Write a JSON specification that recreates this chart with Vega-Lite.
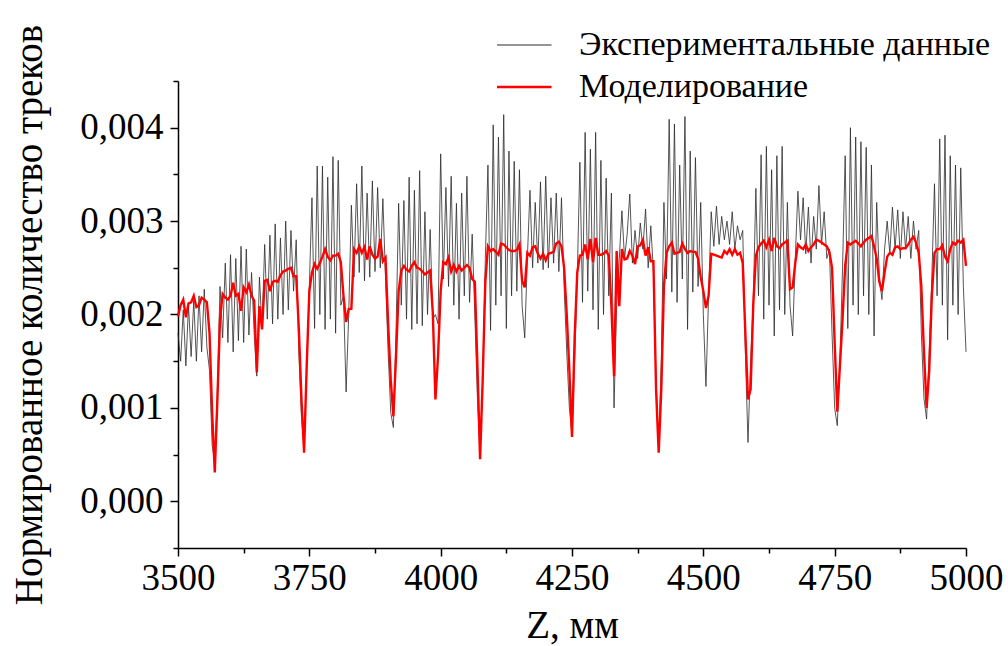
{
"$schema": "https://vega.github.io/schema/vega-lite/v6.json",
"width": 788, "height": 467,
"autosize": {"type": "none"},
"padding": {"left": 178, "top": 81, "right": 42, "bottom": 98},
"background": "white",
"config": {
  "locale": {"number": {"decimal": ",", "thousands": "", "grouping": [3], "currency": ["", ""]}},
  "view": {"stroke": null},
  "font": "'Liberation Serif', 'Times New Roman', 'DejaVu Serif', serif",
  "axis": {"domainColor": "black", "domainWidth": 1.5, "tickColor": "black", "tickWidth": 1.5, "labelColor": "black", "titleColor": "black", "labelFont": "'Liberation Serif', 'Times New Roman', 'DejaVu Serif', serif", "titleFont": "'Liberation Serif', 'Times New Roman', 'DejaVu Serif', serif", "labelFontSize": 37, "titleFontSize": 39, "titleFontWeight": "normal", "grid": false, "labelOverlap": false}
},
"datasets": {
"exp": [
{"z":3500,"v":0.00180},{"z":3505,"v":0.00150},{"z":3510,"v":0.00205},{"z":3515,"v":0.00145},{"z":3520,"v":0.00210},{"z":3525,"v":0.00155},{"z":3530,"v":0.00215},{"z":3535,"v":0.00150},{"z":3540,"v":0.00220},{"z":3545,"v":0.00160},
{"z":3550,"v":0.00227},{"z":3555,"v":0.00165},{"z":3560,"v":0.00140},{"z":3565,"v":0.00060},{"z":3570,"v":0.00042},{"z":3575,"v":0.00120},{"z":3580,"v":0.00230},{"z":3585,"v":0.00175},{"z":3590,"v":0.00255},{"z":3595,"v":0.00170},
{"z":3600,"v":0.00264},{"z":3605,"v":0.00160},{"z":3610,"v":0.00260},{"z":3615,"v":0.00172},{"z":3620,"v":0.00273},{"z":3625,"v":0.00170},{"z":3630,"v":0.00270},{"z":3635,"v":0.00178},{"z":3640,"v":0.00245},{"z":3645,"v":0.00180},
{"z":3650,"v":0.00134},{"z":3655,"v":0.00240},{"z":3660,"v":0.00185},{"z":3665,"v":0.00275},{"z":3670,"v":0.00195},{"z":3675,"v":0.00285},{"z":3680,"v":0.00190},{"z":3685,"v":0.00297},{"z":3690,"v":0.00195},{"z":3695,"v":0.00282},
{"z":3700,"v":0.00200},{"z":3705,"v":0.00300},{"z":3710,"v":0.00205},{"z":3715,"v":0.00290},{"z":3720,"v":0.00225},{"z":3725,"v":0.00280},{"z":3730,"v":0.00160},{"z":3735,"v":0.00090},{"z":3740,"v":0.00058},{"z":3745,"v":0.00140},
{"z":3750,"v":0.00230},{"z":3755,"v":0.00325},{"z":3760,"v":0.00185},{"z":3765,"v":0.00359},{"z":3770,"v":0.00200},{"z":3775,"v":0.00359},{"z":3780,"v":0.00184},{"z":3785,"v":0.00347},{"z":3790,"v":0.00195},{"z":3795,"v":0.00369},
{"z":3800,"v":0.00180},{"z":3805,"v":0.00365},{"z":3810,"v":0.00210},{"z":3815,"v":0.00220},{"z":3820,"v":0.00117},{"z":3825,"v":0.00200},{"z":3830,"v":0.00317},{"z":3835,"v":0.00240},{"z":3840,"v":0.00340},{"z":3845,"v":0.00245},
{"z":3850,"v":0.00359},{"z":3855,"v":0.00236},{"z":3860,"v":0.00330},{"z":3865,"v":0.00240},{"z":3870,"v":0.00343},{"z":3875,"v":0.00246},{"z":3880,"v":0.00336},{"z":3885,"v":0.00250},{"z":3890,"v":0.00324},{"z":3895,"v":0.00240},
{"z":3900,"v":0.00160},{"z":3905,"v":0.00095},{"z":3910,"v":0.00079},{"z":3915,"v":0.00180},{"z":3920,"v":0.00319},{"z":3925,"v":0.00210},{"z":3930,"v":0.00322},{"z":3935,"v":0.00195},{"z":3940,"v":0.00347},{"z":3945,"v":0.00184},
{"z":3950,"v":0.00333},{"z":3955,"v":0.00190},{"z":3960,"v":0.00354},{"z":3965,"v":0.00188},{"z":3970,"v":0.00310},{"z":3975,"v":0.00200},{"z":3980,"v":0.00291},{"z":3985,"v":0.00195},{"z":3990,"v":0.00200},{"z":3995,"v":0.00190},
{"z":4000,"v":0.00372},{"z":4005,"v":0.00238},{"z":4010,"v":0.00336},{"z":4015,"v":0.00230},{"z":4020,"v":0.00348},{"z":4025,"v":0.00210},{"z":4030,"v":0.00319},{"z":4035,"v":0.00195},{"z":4040,"v":0.00330},{"z":4045,"v":0.00220},
{"z":4050,"v":0.00348},{"z":4055,"v":0.00213},{"z":4060,"v":0.00286},{"z":4065,"v":0.00200},{"z":4070,"v":0.00110},{"z":4075,"v":0.00050},{"z":4080,"v":0.00130},{"z":4085,"v":0.00260},{"z":4090,"v":0.00360},{"z":4095,"v":0.00183},
{"z":4100,"v":0.00403},{"z":4105,"v":0.00210},{"z":4110,"v":0.00390},{"z":4115,"v":0.00220},{"z":4120,"v":0.00414},{"z":4125,"v":0.00185},{"z":4130,"v":0.00375},{"z":4135,"v":0.00220},{"z":4140,"v":0.00364},{"z":4145,"v":0.00225},
{"z":4150,"v":0.00355},{"z":4155,"v":0.00210},{"z":4160,"v":0.00175},{"z":4165,"v":0.00260},{"z":4170,"v":0.00333},{"z":4175,"v":0.00250},{"z":4180,"v":0.00320},{"z":4185,"v":0.00255},{"z":4190,"v":0.00342},{"z":4195,"v":0.00248},
{"z":4200,"v":0.00348},{"z":4205,"v":0.00250},{"z":4210,"v":0.00325},{"z":4215,"v":0.00255},{"z":4220,"v":0.00330},{"z":4225,"v":0.00246},{"z":4230,"v":0.00325},{"z":4235,"v":0.00230},{"z":4240,"v":0.00160},{"z":4245,"v":0.00100},
{"z":4250,"v":0.00070},{"z":4255,"v":0.00150},{"z":4260,"v":0.00240},{"z":4265,"v":0.00363},{"z":4270,"v":0.00213},{"z":4275,"v":0.00395},{"z":4280,"v":0.00225},{"z":4285,"v":0.00377},{"z":4290,"v":0.00205},{"z":4295,"v":0.00395},
{"z":4300,"v":0.00184},{"z":4305,"v":0.00365},{"z":4310,"v":0.00200},{"z":4315,"v":0.00346},{"z":4320,"v":0.00220},{"z":4325,"v":0.00330},{"z":4330,"v":0.00100},{"z":4335,"v":0.00210},{"z":4340,"v":0.00260},{"z":4345,"v":0.00311},
{"z":4350,"v":0.00260},{"z":4355,"v":0.00286},{"z":4360,"v":0.00329},{"z":4365,"v":0.00255},{"z":4370,"v":0.00290},{"z":4375,"v":0.00260},{"z":4380,"v":0.00298},{"z":4385,"v":0.00270},{"z":4390,"v":0.00313},{"z":4395,"v":0.00250},
{"z":4400,"v":0.00295},{"z":4405,"v":0.00246},{"z":4410,"v":0.00130},{"z":4415,"v":0.00059},{"z":4420,"v":0.00150},{"z":4425,"v":0.00320},{"z":4430,"v":0.00238},{"z":4435,"v":0.00409},{"z":4440,"v":0.00224},{"z":4445,"v":0.00404},
{"z":4450,"v":0.00213},{"z":4455,"v":0.00360},{"z":4460,"v":0.00238},{"z":4465,"v":0.00412},{"z":4470,"v":0.00184},{"z":4475,"v":0.00375},{"z":4480,"v":0.00224},{"z":4485,"v":0.00368},{"z":4490,"v":0.00230},{"z":4495,"v":0.00320},
{"z":4500,"v":0.00200},{"z":4505,"v":0.00123},{"z":4510,"v":0.00220},{"z":4515,"v":0.00310},{"z":4520,"v":0.00273},{"z":4525,"v":0.00316},{"z":4530,"v":0.00275},{"z":4535,"v":0.00305},{"z":4540,"v":0.00280},{"z":4545,"v":0.00300},
{"z":4550,"v":0.00275},{"z":4555,"v":0.00310},{"z":4560,"v":0.00270},{"z":4565,"v":0.00295},{"z":4570,"v":0.00280},{"z":4575,"v":0.00290},{"z":4580,"v":0.00160},{"z":4585,"v":0.00063},{"z":4590,"v":0.00150},{"z":4595,"v":0.00213},
{"z":4600,"v":0.00335},{"z":4605,"v":0.00220},{"z":4610,"v":0.00371},{"z":4615,"v":0.00195},{"z":4620,"v":0.00380},{"z":4625,"v":0.00210},{"z":4630,"v":0.00355},{"z":4635,"v":0.00177},{"z":4640,"v":0.00370},{"z":4645,"v":0.00205},
{"z":4650,"v":0.00380},{"z":4655,"v":0.00200},{"z":4660,"v":0.00320},{"z":4665,"v":0.00210},{"z":4670,"v":0.00177},{"z":4675,"v":0.00260},{"z":4680,"v":0.00332},{"z":4685,"v":0.00280},{"z":4690,"v":0.00325},{"z":4695,"v":0.00265},
{"z":4700,"v":0.00315},{"z":4705,"v":0.00255},{"z":4710,"v":0.00305},{"z":4715,"v":0.00270},{"z":4720,"v":0.00338},{"z":4725,"v":0.00275},{"z":4730,"v":0.00310},{"z":4735,"v":0.00260},{"z":4740,"v":0.00270},{"z":4745,"v":0.00180},
{"z":4750,"v":0.00100},{"z":4755,"v":0.00081},{"z":4760,"v":0.00150},{"z":4765,"v":0.00250},{"z":4770,"v":0.00370},{"z":4775,"v":0.00185},{"z":4780,"v":0.00400},{"z":4785,"v":0.00210},{"z":4790,"v":0.00390},{"z":4795,"v":0.00200},
{"z":4800,"v":0.00385},{"z":4805,"v":0.00220},{"z":4810,"v":0.00379},{"z":4815,"v":0.00200},{"z":4820,"v":0.00360},{"z":4825,"v":0.00177},{"z":4830,"v":0.00320},{"z":4835,"v":0.00240},{"z":4840,"v":0.00216},{"z":4845,"v":0.00270},
{"z":4850,"v":0.00300},{"z":4855,"v":0.00265},{"z":4860,"v":0.00315},{"z":4865,"v":0.00270},{"z":4870,"v":0.00312},{"z":4875,"v":0.00260},{"z":4880,"v":0.00310},{"z":4885,"v":0.00270},{"z":4890,"v":0.00305},{"z":4895,"v":0.00260},
{"z":4900,"v":0.00300},{"z":4905,"v":0.00270},{"z":4910,"v":0.00290},{"z":4915,"v":0.00180},{"z":4920,"v":0.00110},{"z":4925,"v":0.00088},{"z":4930,"v":0.00160},{"z":4935,"v":0.00240},{"z":4940,"v":0.00340},{"z":4945,"v":0.00220},
{"z":4950,"v":0.00388},{"z":4955,"v":0.00210},{"z":4960,"v":0.00392},{"z":4965,"v":0.00173},{"z":4970,"v":0.00370},{"z":4975,"v":0.00210},{"z":4980,"v":0.00360},{"z":4985,"v":0.00200},{"z":4990,"v":0.00357},{"z":4995,"v":0.00230},
{"z":5000,"v":0.00160}
],
"sim": [
{"z":3500,"v":0.00198},{"z":3505,"v":0.00210},{"z":3510,"v":0.00216},{"z":3515,"v":0.00197},{"z":3520,"v":0.00212},{"z":3525,"v":0.00213},{"z":3530,"v":0.00220},{"z":3535,"v":0.00208},{"z":3540,"v":0.00210},{"z":3545,"v":0.00218},
{"z":3550,"v":0.00216},{"z":3555,"v":0.00213},{"z":3560,"v":0.00180},{"z":3565,"v":0.00095},{"z":3570,"v":0.00031},{"z":3575,"v":0.00109},{"z":3580,"v":0.00195},{"z":3585,"v":0.00222},{"z":3590,"v":0.00218},{"z":3595,"v":0.00216},
{"z":3600,"v":0.00220},{"z":3605,"v":0.00234},{"z":3610,"v":0.00220},{"z":3615,"v":0.00222},{"z":3620,"v":0.00204},{"z":3625,"v":0.00229},{"z":3630,"v":0.00224},{"z":3635,"v":0.00232},{"z":3640,"v":0.00220},{"z":3645,"v":0.00215},
{"z":3650,"v":0.00138},{"z":3655,"v":0.00209},{"z":3660,"v":0.00184},{"z":3665,"v":0.00236},{"z":3670,"v":0.00237},{"z":3675,"v":0.00225},{"z":3680,"v":0.00235},{"z":3685,"v":0.00236},{"z":3690,"v":0.00235},{"z":3695,"v":0.00242},
{"z":3700,"v":0.00246},{"z":3705,"v":0.00247},{"z":3710,"v":0.00249},{"z":3715,"v":0.00250},{"z":3720,"v":0.00241},{"z":3725,"v":0.00241},{"z":3730,"v":0.00185},{"z":3735,"v":0.00110},{"z":3740,"v":0.00052},{"z":3745,"v":0.00145},
{"z":3750,"v":0.00225},{"z":3755,"v":0.00245},{"z":3760,"v":0.00254},{"z":3765,"v":0.00249},{"z":3770,"v":0.00255},{"z":3775,"v":0.00262},{"z":3780,"v":0.00270},{"z":3785,"v":0.00262},{"z":3790,"v":0.00258},{"z":3795,"v":0.00263},
{"z":3800,"v":0.00263},{"z":3805,"v":0.00265},{"z":3810,"v":0.00256},{"z":3815,"v":0.00220},{"z":3820,"v":0.00192},{"z":3825,"v":0.00206},{"z":3830,"v":0.00206},{"z":3835,"v":0.00270},{"z":3840,"v":0.00266},{"z":3845,"v":0.00273},
{"z":3850,"v":0.00266},{"z":3855,"v":0.00272},{"z":3860,"v":0.00259},{"z":3865,"v":0.00273},{"z":3870,"v":0.00264},{"z":3875,"v":0.00260},{"z":3880,"v":0.00262},{"z":3885,"v":0.00281},{"z":3890,"v":0.00257},{"z":3895,"v":0.00261},
{"z":3900,"v":0.00190},{"z":3905,"v":0.00130},{"z":3910,"v":0.00091},{"z":3915,"v":0.00155},{"z":3920,"v":0.00225},{"z":3925,"v":0.00247},{"z":3930,"v":0.00252},{"z":3935,"v":0.00248},{"z":3940,"v":0.00246},{"z":3945,"v":0.00252},
{"z":3950,"v":0.00256},{"z":3955,"v":0.00250},{"z":3960,"v":0.00249},{"z":3965,"v":0.00246},{"z":3970,"v":0.00243},{"z":3975,"v":0.00245},{"z":3980,"v":0.00247},{"z":3985,"v":0.00202},{"z":3990,"v":0.00109},{"z":3995,"v":0.00155},
{"z":4000,"v":0.00225},{"z":4005,"v":0.00256},{"z":4010,"v":0.00254},{"z":4015,"v":0.00261},{"z":4020,"v":0.00246},{"z":4025,"v":0.00253},{"z":4030,"v":0.00246},{"z":4035,"v":0.00252},{"z":4040,"v":0.00247},{"z":4045,"v":0.00250},
{"z":4050,"v":0.00253},{"z":4055,"v":0.00250},{"z":4060,"v":0.00238},{"z":4065,"v":0.00235},{"z":4070,"v":0.00145},{"z":4075,"v":0.00045},{"z":4080,"v":0.00130},{"z":4085,"v":0.00235},{"z":4090,"v":0.00273},{"z":4095,"v":0.00268},
{"z":4100,"v":0.00270},{"z":4105,"v":0.00267},{"z":4110,"v":0.00264},{"z":4115,"v":0.00276},{"z":4120,"v":0.00275},{"z":4125,"v":0.00272},{"z":4130,"v":0.00269},{"z":4135,"v":0.00268},{"z":4140,"v":0.00268},{"z":4145,"v":0.00269},
{"z":4150,"v":0.00275},{"z":4155,"v":0.00236},{"z":4160,"v":0.00229},{"z":4165,"v":0.00266},{"z":4170,"v":0.00263},{"z":4175,"v":0.00272},{"z":4180,"v":0.00273},{"z":4185,"v":0.00265},{"z":4190,"v":0.00260},{"z":4195,"v":0.00265},
{"z":4200,"v":0.00258},{"z":4205,"v":0.00265},{"z":4210,"v":0.00266},{"z":4215,"v":0.00267},{"z":4220,"v":0.00276},{"z":4225,"v":0.00278},{"z":4230,"v":0.00273},{"z":4235,"v":0.00250},{"z":4240,"v":0.00200},{"z":4245,"v":0.00140},
{"z":4250,"v":0.00069},{"z":4255,"v":0.00175},{"z":4260,"v":0.00245},{"z":4265,"v":0.00263},{"z":4270,"v":0.00264},{"z":4275,"v":0.00275},{"z":4280,"v":0.00259},{"z":4285,"v":0.00281},{"z":4290,"v":0.00256},{"z":4295,"v":0.00282},
{"z":4300,"v":0.00264},{"z":4305,"v":0.00264},{"z":4310,"v":0.00265},{"z":4315,"v":0.00268},{"z":4320,"v":0.00263},{"z":4325,"v":0.00209},{"z":4330,"v":0.00134},{"z":4335,"v":0.00268},{"z":4340,"v":0.00209},{"z":4345,"v":0.00270},
{"z":4350,"v":0.00259},{"z":4355,"v":0.00260},{"z":4360,"v":0.00268},{"z":4365,"v":0.00263},{"z":4370,"v":0.00254},{"z":4375,"v":0.00273},{"z":4380,"v":0.00274},{"z":4385,"v":0.00280},{"z":4390,"v":0.00263},{"z":4395,"v":0.00272},
{"z":4400,"v":0.00257},{"z":4405,"v":0.00257},{"z":4410,"v":0.00120},{"z":4415,"v":0.00052},{"z":4420,"v":0.00120},{"z":4425,"v":0.00230},{"z":4430,"v":0.00266},{"z":4435,"v":0.00273},{"z":4440,"v":0.00277},{"z":4445,"v":0.00265},
{"z":4450,"v":0.00266},{"z":4455,"v":0.00267},{"z":4460,"v":0.00276},{"z":4465,"v":0.00270},{"z":4470,"v":0.00266},{"z":4475,"v":0.00268},{"z":4480,"v":0.00267},{"z":4485,"v":0.00267},{"z":4490,"v":0.00260},{"z":4495,"v":0.00240},
{"z":4500,"v":0.00225},{"z":4505,"v":0.00207},{"z":4510,"v":0.00220},{"z":4515,"v":0.00265},{"z":4520,"v":0.00264},{"z":4525,"v":0.00263},{"z":4530,"v":0.00262},{"z":4535,"v":0.00261},{"z":4540,"v":0.00268},{"z":4545,"v":0.00265},
{"z":4550,"v":0.00270},{"z":4555,"v":0.00264},{"z":4560,"v":0.00270},{"z":4565,"v":0.00264},{"z":4570,"v":0.00266},{"z":4575,"v":0.00255},{"z":4580,"v":0.00180},{"z":4585,"v":0.00109},{"z":4590,"v":0.00120},{"z":4595,"v":0.00210},
{"z":4600,"v":0.00263},{"z":4605,"v":0.00272},{"z":4610,"v":0.00276},{"z":4615,"v":0.00279},{"z":4620,"v":0.00272},{"z":4625,"v":0.00280},{"z":4630,"v":0.00268},{"z":4635,"v":0.00282},{"z":4640,"v":0.00273},{"z":4645,"v":0.00271},
{"z":4650,"v":0.00275},{"z":4655,"v":0.00277},{"z":4660,"v":0.00279},{"z":4665,"v":0.00227},{"z":4670,"v":0.00229},{"z":4675,"v":0.00255},{"z":4680,"v":0.00275},{"z":4685,"v":0.00272},{"z":4690,"v":0.00270},{"z":4695,"v":0.00275},
{"z":4700,"v":0.00268},{"z":4705,"v":0.00272},{"z":4710,"v":0.00275},{"z":4715,"v":0.00280},{"z":4720,"v":0.00279},{"z":4725,"v":0.00277},{"z":4730,"v":0.00275},{"z":4735,"v":0.00273},{"z":4740,"v":0.00267},{"z":4745,"v":0.00250},
{"z":4750,"v":0.00170},{"z":4755,"v":0.00096},{"z":4760,"v":0.00145},{"z":4765,"v":0.00195},{"z":4770,"v":0.00252},{"z":4775,"v":0.00277},{"z":4780,"v":0.00275},{"z":4785,"v":0.00277},{"z":4790,"v":0.00279},{"z":4795,"v":0.00276},
{"z":4800,"v":0.00273},{"z":4805,"v":0.00277},{"z":4810,"v":0.00280},{"z":4815,"v":0.00282},{"z":4820,"v":0.00284},{"z":4825,"v":0.00273},{"z":4830,"v":0.00260},{"z":4835,"v":0.00235},{"z":4840,"v":0.00225},{"z":4845,"v":0.00245},
{"z":4850,"v":0.00262},{"z":4855,"v":0.00266},{"z":4860,"v":0.00264},{"z":4865,"v":0.00272},{"z":4870,"v":0.00273},{"z":4875,"v":0.00270},{"z":4880,"v":0.00271},{"z":4885,"v":0.00271},{"z":4890,"v":0.00275},{"z":4895,"v":0.00280},
{"z":4900,"v":0.00283},{"z":4905,"v":0.00277},{"z":4910,"v":0.00266},{"z":4915,"v":0.00230},{"z":4920,"v":0.00160},{"z":4925,"v":0.00100},{"z":4930,"v":0.00140},{"z":4935,"v":0.00220},{"z":4940,"v":0.00266},{"z":4945,"v":0.00270},
{"z":4950,"v":0.00270},{"z":4955,"v":0.00274},{"z":4960,"v":0.00262},{"z":4965,"v":0.00257},{"z":4970,"v":0.00270},{"z":4975,"v":0.00277},{"z":4980,"v":0.00275},{"z":4985,"v":0.00279},{"z":4990,"v":0.00277},{"z":4995,"v":0.00280},
{"z":5000,"v":0.00252}
]
},
"layer": [
  {
    "data": {"name": "exp"},
    "mark": {"type": "line", "strokeWidth": 0.8},
    "encoding": {
      "x": {"field": "z", "type": "quantitative",
        "scale": {"domain": [3500, 5000], "nice": false, "zero": false},
        "axis": {"values": [3500, 3625, 3750, 3875, 4000, 4125, 4250, 4375, 4500, 4625, 4750, 4875, 5000],
          "format": "d", "labelExpr": "datum.value % 250 === 0 ? datum.label : ''",
          "tickSize": {"condition": {"test": "datum.value % 250 === 0", "value": 8}, "value": 5},
          "title": "Z, мм", "labelPadding": 4, "titlePadding": 10, "labelFlush": false}},
      "y": {"field": "v", "type": "quantitative",
        "scale": {"domain": [-0.0005, 0.0045], "nice": false, "zero": false},
        "axis": {"values": [-0.0005, 0, 0.0005, 0.001, 0.0015, 0.002, 0.0025, 0.003, 0.0035, 0.004, 0.0045],
          "format": ".3f", "labelExpr": "abs(datum.value*1000 - round(datum.value*1000)) < 0.001 ? datum.label : ''",
          "tickSize": {"condition": {"test": "abs(datum.value*1000 - round(datum.value*1000)) < 0.001", "value": 8}, "value": 5},
          "title": "Нормированное количество треков", "labelPadding": 7, "titlePadding": 30}},
      "color": {"datum": "Экспериментальные данные", "type": "nominal",
        "scale": {"domain": ["Экспериментальные данные", "Моделирование"], "range": ["#2b2b2b", "#ff0000"]},
        "legend": {"orient": "none", "legendX": 319, "legendY": -52, "title": null, "padding": 0,
          "symbolType": "stroke", "symbolSize": 5625, "symbolStrokeWidth": 1.2, "clipHeight": 32, "rowPadding": 8,
          "labelFont": "'Liberation Serif', 'Times New Roman', 'DejaVu Serif', serif", "labelFontSize": 34, "labelColor": "black", "labelOffset": 48, "labelLimit": 600,
          "encode": {"symbols": {"update": {"strokeWidth": {"signal": "datum.value === 'Моделирование' ? 2.4 : 1"}}}}}}
    }
  },
  {
    "data": {"name": "sim"},
    "mark": {"type": "line", "strokeWidth": 2.4},
    "encoding": {
      "x": {"field": "z", "type": "quantitative"},
      "y": {"field": "v", "type": "quantitative"},
      "color": {"datum": "Моделирование", "type": "nominal"}
    }
  }
]
}
